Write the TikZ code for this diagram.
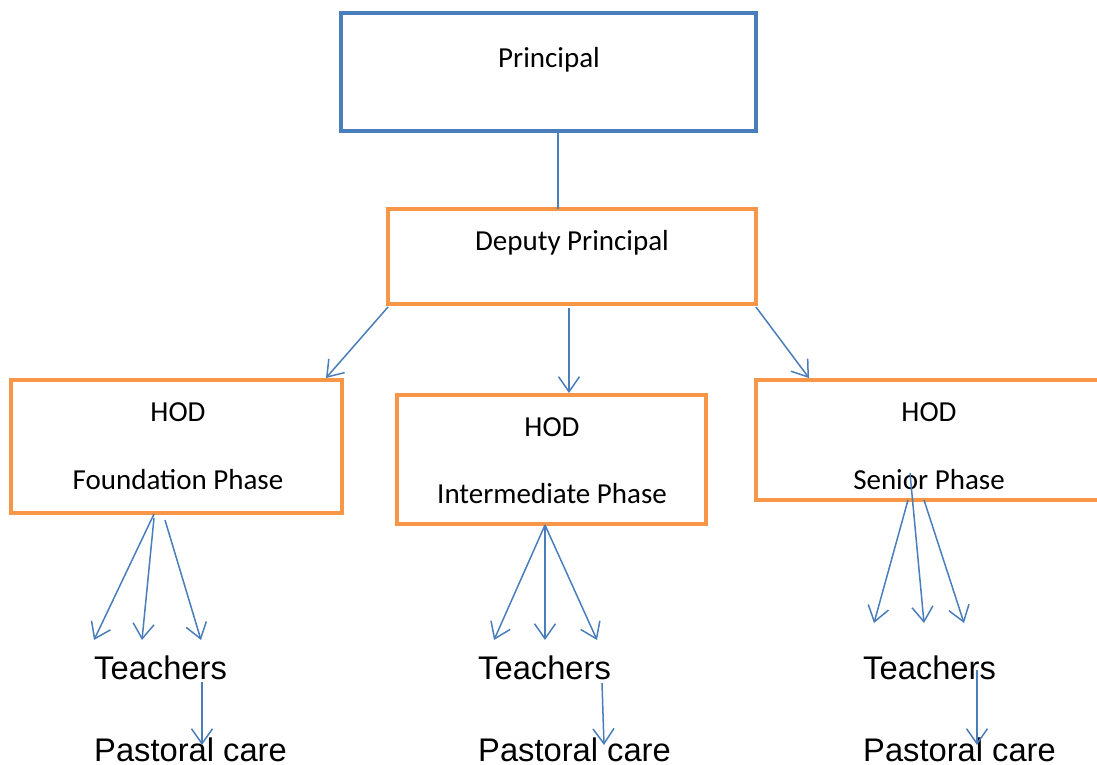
\documentclass[tikz,border=0pt]{standalone}
\usepackage{fontspec}
\setmainfont{Carlito}
\newfontfamily\arialf{Liberation Sans}
\usetikzlibrary{arrows.meta,calc}
\definecolor{pblue}{HTML}{4A7EBB}
\definecolor{porange}{HTML}{F79646}
\begin{document}
\begin{tikzpicture}[x=1pt,y=-1pt,
  orbox/.style={draw=porange, line width=4pt, inner sep=0pt},
  lbl/.style={font=\fontsize{29}{32}\selectfont, inner sep=0pt, anchor=base},
  big/.style={font=\arialf\fontsize{32.7}{36}\selectfont, inner sep=0pt, anchor=base west},
  conn/.style={draw=pblue, line width=1.5pt},
  arr/.style={conn, -{Straight Barb[length=15pt,width=21pt,line width=1.5pt]}}]
\useasboundingbox (0,0) rectangle (1097,764);
\clip (0,0) rectangle (1097,764);
% boxes
\node[draw=pblue, line width=4pt, inner sep=0pt, minimum width=415pt, minimum height=118pt] (prin) at (548.5,72) {};
\node[orbox, minimum width=368pt, minimum height=95pt] (dep) at (572,256.5) {};
\node[orbox, minimum width=331pt, minimum height=133pt] (hf) at (176.5,446.5) {};
\node[orbox, minimum width=309pt, minimum height=129pt] (hi) at (551.5,459.5) {};
\node[orbox, minimum width=360pt, minimum height=120pt] (hs) at (936,440) {};
% box texts
\node[lbl] (tprin) at (549,67) {Principal};
\node[lbl] (tdep) at (572,250) {Deputy Principal};
\node[lbl] (thf1) at (178,421) {HOD};
\node[lbl] (thf2) at (178,489) {Foundation Phase};
\node[lbl] (thi1) at (552,436) {HOD};
\node[lbl] (thi2) at (552,503) {Intermediate Phase};
\node[lbl] (ths1) at (929,421) {HOD};
\node[lbl] (ths2) at (929,489) {Senior Phase};
% lower labels
\node[big] (tf) at (94,679) {Teachers};
\node[big] (pf) at (94,761) {Pastoral care};
\node[big] (ti) at (478,679) {Teachers};
\node[big] (pi) at (478,761) {Pastoral care};
\node[big] (ts) at (863,679) {Teachers};
\node[big] (ps) at (863,761) {Pastoral care};
% coordinates
\coordinate (p0) at (558,131);
\coordinate (d0) at (558,209);
\coordinate (da) at (388,307); \coordinate (fa) at (326,378);
\coordinate (db) at (569,308); \coordinate (ib) at (569,393);
\coordinate (dc) at (756,307); \coordinate (sc) at (809,378);
\coordinate (f0) at (154,514); \coordinate (f1) at (154,518); \coordinate (f2) at (165,520);
\coordinate (fe0) at (94,640); \coordinate (fe1) at (142,640); \coordinate (fe2) at (201,640);
\coordinate (i0) at (545,525);
\coordinate (ie0) at (494,640); \coordinate (ie1) at (545,640); \coordinate (ie2) at (597,640);
\coordinate (s0) at (908,500); \coordinate (s1) at (910,473); \coordinate (s2) at (924,500);
\coordinate (se0) at (874,623); \coordinate (se1) at (924,623); \coordinate (se2) at (964,623);
\coordinate (tf0) at (202,682); \coordinate (pf0) at (202,745);
\coordinate (ti0) at (602,683); \coordinate (pi0) at (604,745);
\coordinate (ts0) at (977,670); \coordinate (ps0) at (977,745);
% connectors
\draw[conn] (p0) -- (d0);
\draw[arr] (da) -- (fa);
\draw[arr] (db) -- (ib);
\draw[arr] (dc) -- (sc);
\draw[arr] (f0) -- (fe0);
\draw[arr] (f1) -- (fe1);
\draw[arr] (f2) -- (fe2);
\draw[arr] (i0) -- (ie0);
\draw[arr] (i0) -- (ie1);
\draw[arr] (i0) -- (ie2);
\draw[arr] (s0) -- (se0);
\draw[arr] (s1) -- (se1);
\draw[arr] (s2) -- (se2);
\draw[arr] (tf0) -- (pf0);
\draw[arr] (ti0) -- (pi0);
\draw[arr] (ts0) -- (ps0);
\end{tikzpicture}
\end{document}
